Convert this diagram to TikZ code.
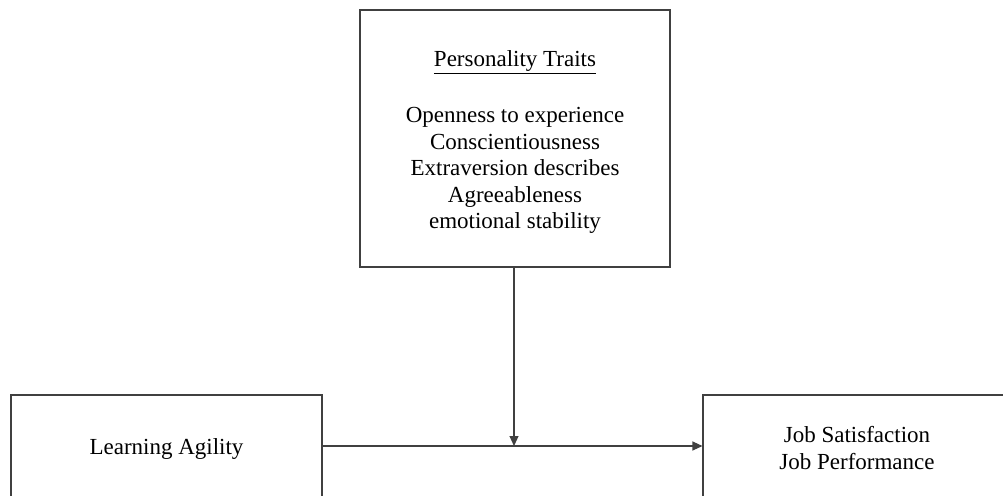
\documentclass[tikz,border=0pt]{standalone}
\usepackage{fontspec}
\setmainfont{Liberation Serif}
\usetikzlibrary{arrows.meta}
\begin{document}
\begin{tikzpicture}[x=1pt,y=-1pt,
  boxstyle/.style={draw=black!75,line width=1.1pt,rectangle,inner sep=0pt},
  txt/.style={font=\fontsize{23}{26.5}\selectfont,align=center,inner sep=0pt},
  conn/.style={draw=black!75,line width=1.1pt,-{Triangle[length=10pt,width=9pt]}}]
\useasboundingbox (0,0) rectangle (1003,495);
\clip (0,0) rectangle (1003,495);
\node[boxstyle,minimum width=310pt,minimum height=257pt] (top) at (515,138.5) {};
\node[txt] (ptitle) at (515,62) {\underline{Personality Traits}};
\node[txt,anchor=center] (plist) at (515,170.5) {Openness to experience\\Conscientiousness\\Extraversion describes\\Agreeableness\\emotional stability};
\node[boxstyle,minimum width=311pt,minimum height=106pt] (left) at (166.5,448) {};
\node[txt] (la) at (166.5,449) {Learning Agility};
\node[boxstyle,minimum width=310pt,minimum height=106pt] (right) at (858,448) {};
\node[txt] (job) at (857,448) {Job Satisfaction\\Job Performance};
\coordinate (mid) at (514,446);
\draw[conn] (top.south -| mid) -- (mid);
\draw[conn] (left.east |- mid) -- (right.west |- mid);
\end{tikzpicture}
\end{document}
